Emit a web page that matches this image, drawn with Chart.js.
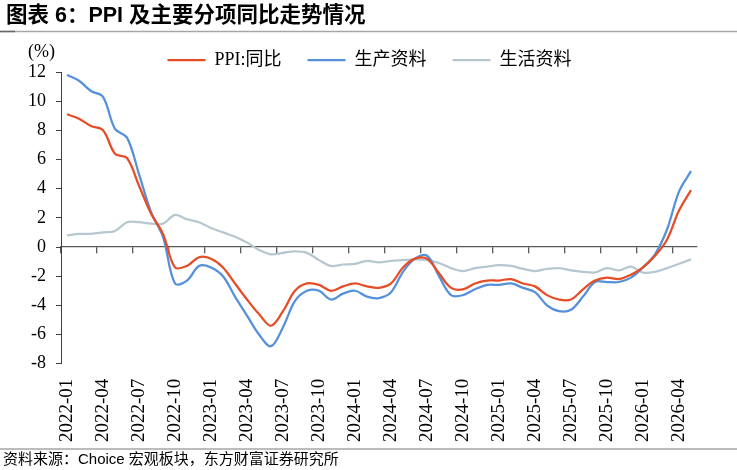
<!DOCTYPE html>
<html>
<head>
<meta charset="utf-8">
<script src="https://cdn.jsdelivr.net/npm/chart.js@4.4.1/dist/chart.umd.min.js"></script>
<style>
html, body { margin: 0; padding: 0; background: #ffffff; }
canvas { display: block; }
</style>
</head>
<body>
<canvas id="c" width="737" height="470"></canvas>
<script>
// ---- data ----
const months = [
  '2022-01','2022-02','2022-03','2022-04','2022-05','2022-06','2022-07','2022-08','2022-09','2022-10','2022-11','2022-12',
  '2023-01','2023-02','2023-03','2023-04','2023-05','2023-06','2023-07','2023-08','2023-09','2023-10','2023-11','2023-12',
  '2024-01','2024-02','2024-03','2024-04','2024-05','2024-06','2024-07','2024-08','2024-09','2024-10','2024-11','2024-12',
  '2025-01','2025-02','2025-03','2025-04','2025-05','2025-06','2025-07','2025-08','2025-09','2025-10','2025-11','2025-12',
  '2026-01','2026-02','2026-03','2026-04','2026-05'
];
const ppiYoY = [
  9.1, 8.8, 8.3, 8.0, 6.4, 6.1, 4.2, 2.3, 0.9, -1.4, -1.3, -0.7,
  -0.8, -1.4, -2.5, -3.6, -4.6, -5.4, -4.4, -3.0, -2.5, -2.6, -3.0, -2.7,
  -2.5, -2.7, -2.8, -2.5, -1.4, -0.8, -0.8, -1.8, -2.8, -2.9, -2.5, -2.3,
  -2.3, -2.2, -2.5, -2.7, -3.3, -3.6, -3.6, -2.9, -2.3, -2.1, -2.2, -1.9,
  -1.4, -0.6, 0.5, 2.5, 3.9
];
const producerGoods = [
  11.8, 11.4, 10.7, 10.3, 8.1, 7.5, 5.0, 2.4, 0.7, -2.5, -2.3, -1.3,
  -1.4, -2.0, -3.4, -4.7, -6.0, -6.8, -5.5, -3.7, -3.0, -3.0, -3.6, -3.2,
  -3.0, -3.4, -3.5, -3.1, -1.7, -0.8, -0.6, -2.0, -3.3, -3.3, -2.9, -2.6,
  -2.6, -2.5, -2.8, -3.1, -4.0, -4.4, -4.3, -3.4, -2.4, -2.4, -2.4, -2.1,
  -1.4, -0.5, 1.2, 3.8, 5.2
];
const consumerGoods = [
  0.8, 0.9, 0.9, 1.0, 1.1, 1.7, 1.7, 1.6, 1.6, 2.2, 1.9, 1.7,
  1.3, 1.0, 0.7, 0.3, -0.2, -0.5, -0.4, -0.3, -0.4, -0.9, -1.3, -1.2,
  -1.15, -0.95, -1.05, -0.95, -0.9, -0.85, -0.9, -1.1, -1.45, -1.65, -1.45, -1.35,
  -1.25, -1.3, -1.5, -1.65, -1.5, -1.45, -1.6, -1.7, -1.75, -1.45, -1.6, -1.35,
  -1.75, -1.7, -1.45, -1.15, -0.85
];
const seriesNames = ['PPI:同比', '生产资料', '生活资料'];
const yMin = -8, yMax = 12, yStep = 2;
const labelEvery = 3;

// ---- styles ----
const COLORS = ['#E64D26', '#5590DB', '#B6C7D0'];
const AXIS_COLOR = '#595959';
const SERIF = '"Liberation Serif", "Noto Sans CJK SC", serif';

const deco = {
  id: 'deco',
  beforeLayout(chart) {
    const lg = chart.legend;
    if (lg && !lg._patched) {
      const f = lg.fit;
      lg.fit = function () { f.call(this); this.height -= 7; };
      lg._patched = true;
    }
  },
  afterLayout(chart) {
    const lg = chart.legend;
    if (lg) { lg.left += 12; lg.right += 12; }
  },
  afterDraw(chart) {
    const ctx = chart.ctx;
    ctx.save();
    // title
    ctx.fillStyle = '#000';
    ctx.textAlign = 'left';
    ctx.textBaseline = 'middle';
    ctx.font = 'bold 21.5px "Liberation Sans", "Noto Sans CJK SC", sans-serif';
    ctx.fillText('图表 6：PPI 及主要分项同比走势情况', 6, 16);
    // top rule
    ctx.lineWidth = 1.5;
    ctx.strokeStyle = '#a6a6a6';
    ctx.beginPath(); ctx.moveTo(0, 31.5); ctx.lineTo(737, 31.5); ctx.stroke();
    ctx.strokeStyle = '#666';
    ctx.beginPath(); ctx.moveTo(0, 31.5); ctx.lineTo(15, 31.5); ctx.stroke();
    // bottom rule
    ctx.strokeStyle = '#a6a6a6';
    ctx.beginPath(); ctx.moveTo(0, 449); ctx.lineTo(737, 449); ctx.stroke();
    // unit
    ctx.font = '18px ' + SERIF;
    ctx.fillText('(%)', 28, 52);
    // source
    ctx.font = '15px "Liberation Sans", "Noto Sans CJK SC", sans-serif';
    ctx.fillText('资料来源：Choice 宏观板块，东方财富证券研究所', 3, 460);
    ctx.restore();
  }
};

const mkSet = (label, data, color) => ({
  label, data,
  borderColor: color, backgroundColor: color,
  borderWidth: 2.25, pointRadius: 0, pointHoverRadius: 0,
  tension: 0.35, fill: false
});

new Chart(document.getElementById('c'), {
  type: 'line',
  data: {
    labels: months,
    datasets: [
      mkSet(seriesNames[0], ppiYoY, COLORS[0]),
      mkSet(seriesNames[1], producerGoods, COLORS[1]),
      mkSet(seriesNames[2], consumerGoods, COLORS[2])
    ]
  },
  options: {
    responsive: false,
    devicePixelRatio: 1,
    animation: false,
    layout: { padding: { top: 25, left: 18, right: 40, bottom: 13 } },
    plugins: {
      title: { display: false },
      tooltip: { enabled: false },
      legend: {
        display: true,
        position: 'top',
        labels: {
          usePointStyle: true,
          pointStyle: 'line',
          pointStyleWidth: 38,
          padding: 26,
          color: '#000',
          font: { family: SERIF, size: 18 }
        }
      }
    },
    scales: {
      x: {
        type: 'category',
        offset: true,
        grid: { display: false, drawTicks: false },
        border: { display: false },
        ticks: {
          autoSkip: false,
          maxRotation: 90,
          minRotation: 90,
          padding: 15,
          color: '#000',
          font: { family: SERIF, size: 19 },
          callback: (v, i) => (i % labelEvery === 0 ? months[i] : '')
        }
      },
      x0: {
        type: 'category',
        axis: 'x',
        position: { y: 0 },
        offset: true,
        grid: {
          offset: true,
          drawOnChartArea: false,
          drawTicks: true,
          tickLength: 6,
          color: AXIS_COLOR,
          lineWidth: (c) => (c.index % labelEvery === 0 ? 1.3 : 0)
        },
        border: { display: true, color: AXIS_COLOR, width: 1.3 },
        ticks: { display: false, autoSkip: false }
      },
      y: {
        min: yMin, max: yMax,
        ticks: {
          stepSize: yStep,
          padding: 10,
          color: '#000',
          font: { family: SERIF, size: 18 }
        },
        grid: { drawOnChartArea: false, drawTicks: true, tickLength: 5, color: '#404040', lineWidth: 1 },
        border: { display: true, color: '#404040', width: 1 }
      }
    }
  },
  plugins: [deco]
});
</script>
</body>
</html>
